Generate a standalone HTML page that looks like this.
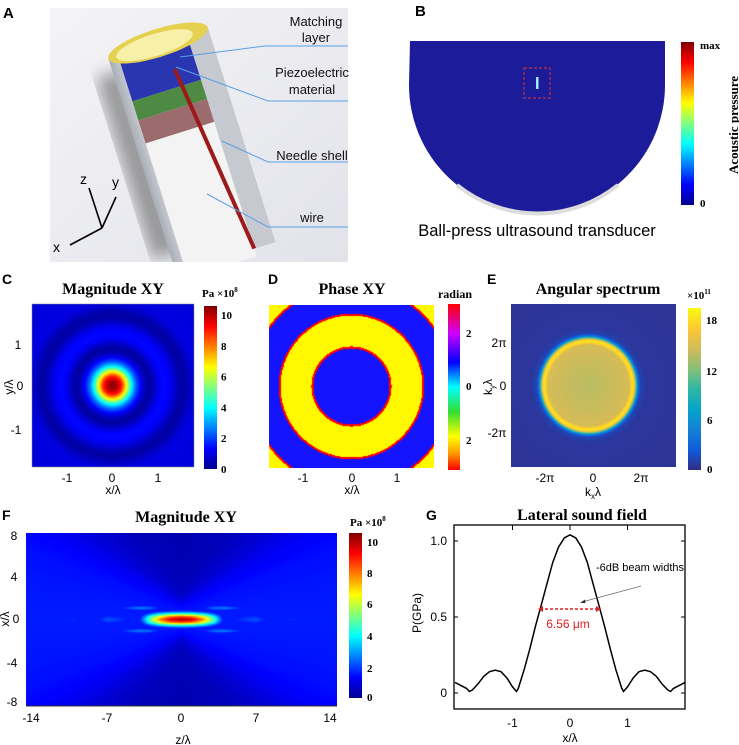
<!DOCTYPE html>
<html><head><meta charset="utf-8"><style>
html,body{margin:0;padding:0;background:#fff;width:739px;height:745px;overflow:hidden}
#wrap{position:relative;width:739px;height:745px}
canvas{position:absolute}
svg{position:absolute;left:0;top:0}
</style></head><body><div id="wrap">
<canvas id="cC" width="162" height="163" style="left:32px;top:304px"></canvas>
<canvas id="cD" width="165" height="163" style="left:269px;top:305px"></canvas>
<canvas id="cE" width="165" height="163" style="left:511px;top:304px"></canvas>
<canvas id="cF" width="311" height="173" style="left:26px;top:533px"></canvas>
<svg width="739" height="745" font-family="Liberation Sans, sans-serif">
<defs>
<linearGradient id="jet" x1="0" y1="1" x2="0" y2="0"><stop offset="0" stop-color="#00008f"/><stop offset="0.125" stop-color="#0000ff"/><stop offset="0.375" stop-color="#00ffff"/><stop offset="0.625" stop-color="#ffff00"/><stop offset="0.875" stop-color="#ff0000"/><stop offset="1" stop-color="#800000"/></linearGradient>
<linearGradient id="phase" x1="0" y1="1" x2="0" y2="0"><stop offset="0" stop-color="#ff0000"/><stop offset="0.1" stop-color="#ff9900"/><stop offset="0.2" stop-color="#ffff00"/><stop offset="0.35" stop-color="#33dd33"/><stop offset="0.5" stop-color="#00ffff"/><stop offset="0.65" stop-color="#0000ff"/><stop offset="0.82" stop-color="#cc00ff"/><stop offset="1" stop-color="#ff0000"/></linearGradient>
<linearGradient id="parula" x1="0" y1="1" x2="0" y2="0"><stop offset="0" stop-color="#352a87"/><stop offset="0.125" stop-color="#0f5cdd"/><stop offset="0.25" stop-color="#1481d6"/><stop offset="0.375" stop-color="#06a4ca"/><stop offset="0.5" stop-color="#2eb7a4"/><stop offset="0.625" stop-color="#87bf77"/><stop offset="0.75" stop-color="#d1bb59"/><stop offset="0.875" stop-color="#fec832"/><stop offset="1" stop-color="#f9fb0e"/></linearGradient>
<linearGradient id="bgA" x1="0" y1="0" x2="1" y2="1"><stop offset="0" stop-color="#f4f4f6"/><stop offset="1" stop-color="#e2e3ea"/></linearGradient>
<linearGradient id="tube" x1="0" y1="0" x2="1" y2="0"><stop offset="0" stop-color="#a9adb5"/><stop offset="0.25" stop-color="#eef0f3"/><stop offset="0.7" stop-color="#d6d9df"/><stop offset="1" stop-color="#9ea3ab"/></linearGradient>
<filter id="blur"><feGaussianBlur stdDeviation="8"/></filter>
<clipPath id="clipA"><rect x="50" y="8" width="298" height="254"/></clipPath>
</defs>

<!-- Panel A -->
<g>
<text x="3" y="18" font-size="15" font-weight="bold">A</text>
<rect x="50" y="8" width="298" height="254" fill="url(#bgA)"/>
<g clip-path="url(#clipA)">
<g transform="rotate(-17.5 158 43) translate(158 43)">
<rect x="-70" y="15" width="30" height="190" fill="#333" opacity="0.45" filter="url(#blur)"/>
<rect x="-52" y="0" width="104" height="225" fill="url(#tube)"/>
<rect x="-42" y="8" width="72" height="225" fill="#f3f3f3"/>
<rect x="-42" y="8" width="72" height="40" fill="#2a35b0"/>
<rect x="-42" y="48" width="72" height="20" fill="#4f8a45"/>
<rect x="-42" y="68" width="72" height="24" fill="#9c6b6e"/>
<rect x="30" y="0" width="22" height="225" fill="#c6c9cf"/>
<ellipse cx="0" cy="0" rx="52" ry="14" fill="#e6d050"/>
<ellipse cx="-4" cy="1" rx="40" ry="11" fill="#f6f0a8"/>
<line x1="8" y1="30" x2="30" y2="225" stroke="#9c1a1a" stroke-width="4"/>
</g>
</g>
<g fill="#111" font-size="13" text-anchor="middle">
<text x="316" y="26">Matching</text><text x="316" y="42">layer</text>
<text x="312" y="77">Piezoelectric</text><text x="312" y="94">material</text>
<text x="312" y="160">Needle shell</text>
<text x="312" y="222">wire</text>
</g>
<g stroke="#5aa0e6" stroke-width="1" fill="none">
<polyline points="180,57 265,46 348,46"/><polyline points="176,67 268,101 348,101"/>
<polyline points="222,141 268,162 348,162"/><polyline points="207,194 268,227 348,227"/>
</g>
<g stroke="#000" stroke-width="1.6" fill="#000">
<line x1="102" y1="228" x2="89" y2="188"/><line x1="102" y1="228" x2="116" y2="197"/><line x1="102" y1="228" x2="70" y2="245"/>
</g>
<g font-size="14" fill="#000"><text x="80" y="184">z</text><text x="112" y="187">y</text><text x="53" y="252">x</text></g>
</g>

<!-- Panel B -->
<g>
<text x="415" y="16" font-size="15" font-weight="bold">B</text>
<path d="M410,41 H665 V85 A128,128 0 0 1 409,85 Z" fill="#1c1c9a"/>
<path d="M457,185 A128,128 0 0 0 618,185" fill="none" stroke="#ddd" stroke-width="4"/>
<rect x="524" y="68" width="26" height="30" fill="none" stroke="#c0303a" stroke-width="1.2" stroke-dasharray="3,2"/>
<rect x="536" y="77" width="2.5" height="12" fill="#9ef"/>
<rect x="681" y="42" width="13" height="163" fill="url(#jet)"/>
<text x="700" y="49" font-family="Liberation Serif, serif" font-weight="bold" font-size="11">max</text>
<text x="700" y="207" font-family="Liberation Serif, serif" font-weight="bold" font-size="11">0</text>
<text transform="translate(738 125) rotate(-90)" text-anchor="middle" font-family="Liberation Serif, serif" font-weight="bold" font-size="13">Acoustic pressure</text>
<text x="537" y="236" text-anchor="middle" font-size="16.5">Ball-press ultrasound transducer</text>
</g>

<!-- Panel C -->
<g>
<text x="2" y="284" font-size="14" font-weight="bold">C</text>
<text x="113" y="294" text-anchor="middle" font-family="Liberation Serif, serif" font-weight="bold" font-size="16">Magnitude XY</text>
<rect x="32" y="304" width="162" height="163" fill="none" stroke="#888" stroke-width="0.5"/>
<rect x="204" y="306" width="13" height="163" fill="url(#jet)"/>
<text x="202" y="297" font-family="Liberation Serif, serif" font-weight="bold" font-size="11">Pa ×10<tspan font-size="7" dy="-5">8</tspan></text>
<g id="cTicks" font-family="Liberation Serif, serif" font-weight="bold" font-size="11"></g>
<g font-size="12" text-anchor="middle"><text x="67" y="482">-1</text><text x="112" y="482">0</text><text x="158" y="482">1</text><text x="113" y="494">x/λ</text>
<text x="18" y="349">1</text><text x="20" y="390">0</text><text x="16" y="434">-1</text></g>
<text transform="translate(13 387) rotate(-90)" text-anchor="middle" font-size="12">y/λ</text>
</g>

<!-- Panel D -->
<g>
<text x="268" y="284" font-size="14" font-weight="bold">D</text>
<text x="352" y="294" text-anchor="middle" font-family="Liberation Serif, serif" font-weight="bold" font-size="16">Phase XY</text>
<rect x="448" y="304" width="12" height="166" fill="url(#phase)"/>
<text x="455" y="298" text-anchor="middle" font-family="Liberation Serif, serif" font-weight="bold" font-size="12">radian</text>
<g font-family="Liberation Serif, serif" font-weight="bold" font-size="11"><text x="466" y="337">2</text><text x="466" y="390">0</text><text x="466" y="444">2</text></g>
<g font-size="12" text-anchor="middle"><text x="303" y="482">-1</text><text x="352" y="482">0</text><text x="397" y="482">1</text><text x="352" y="494">x/λ</text></g>
</g>

<!-- Panel E -->
<g>
<text x="487" y="284" font-size="14" font-weight="bold">E</text>
<text x="598" y="294" text-anchor="middle" font-family="Liberation Serif, serif" font-weight="bold" font-size="16">Angular spectrum</text>
<rect x="688" y="308" width="13" height="162" fill="url(#parula)"/>
<text x="687" y="299" font-family="Liberation Serif, serif" font-weight="bold" font-size="11">×10<tspan font-size="7" dy="-5">11</tspan></text>
<g font-family="Liberation Serif, serif" font-weight="bold" font-size="11"><text x="706" y="324">18</text><text x="706" y="375">12</text><text x="707" y="424">6</text><text x="707" y="473">0</text></g>
<g font-size="12" text-anchor="middle"><text x="499" y="347">2π</text><text x="503" y="390">0</text><text x="497" y="437">-2π</text>
<text x="545" y="482">-2π</text><text x="593" y="482">0</text><text x="641" y="482">2π</text><text x="593" y="496">k<tspan font-size="8" dy="3">x</tspan><tspan dy="-3">λ</tspan></text></g>
<text transform="translate(492 387) rotate(-90)" text-anchor="middle" font-size="12">k<tspan font-size="8" dy="3">y</tspan><tspan dy="-3">λ</tspan></text>
</g>

<!-- Panel F -->
<g>
<text x="2" y="520" font-size="14" font-weight="bold">F</text>
<text x="186" y="522" text-anchor="middle" font-family="Liberation Serif, serif" font-weight="bold" font-size="16">Magnitude XY</text>
<rect x="349" y="533" width="13" height="165" fill="url(#jet)"/>
<text x="350" y="526" font-family="Liberation Serif, serif" font-weight="bold" font-size="11">Pa ×10<tspan font-size="7" dy="-5">8</tspan></text>
<g font-family="Liberation Serif, serif" font-weight="bold" font-size="11"><text x="367" y="546">10</text><text x="367" y="577">8</text><text x="367" y="608">6</text><text x="367" y="640">4</text><text x="367" y="672">2</text><text x="367" y="701">0</text></g>
<line x1="26" y1="706" x2="337" y2="706" stroke="#333"/>
<g font-size="12" text-anchor="middle"><text x="31" y="722">-14</text><text x="107" y="722">-7</text><text x="181" y="722">0</text><text x="256" y="722">7</text><text x="330" y="722">14</text><text x="183" y="744">z/λ</text>
<text x="14" y="540">8</text><text x="14" y="581">4</text><text x="16" y="623">0</text><text x="12" y="667">-4</text><text x="12" y="706">-8</text></g>
<text transform="translate(9 619) rotate(-90)" text-anchor="middle" font-size="12">x/λ</text>
</g>

<!-- Panel G -->
<g>
<text x="426" y="520" font-size="14" font-weight="bold">G</text>
<text x="582" y="520" text-anchor="middle" font-family="Liberation Serif, serif" font-weight="bold" font-size="16">Lateral sound field</text>
<rect x="454" y="525" width="231" height="184" fill="none" stroke="#000" stroke-width="1.3"/>
<g id="gAxes" font-size="12"></g>
<path id="gLine" fill="none" stroke="#000" stroke-width="1.5"/>
<line x1="540" y1="609" x2="599" y2="609" stroke="#e02020" stroke-width="1.5" stroke-dasharray="3,2"/>
<path d="M538,609 l5,-3 v6z M601,609 l-5,-3 v6z" fill="#e02020"/>
<text x="568" y="628" text-anchor="middle" font-size="12" fill="#e02020">6.56 μm</text>
<text x="596" y="571" font-size="11">-6dB beam widths</text>
<line x1="641" y1="586" x2="582" y2="602" stroke="#666" stroke-width="0.8"/>
<path d="M580,603 l5,-3.5 l0.5,3.5z" fill="#333"/>
<text transform="translate(421 613) rotate(-90)" text-anchor="middle" font-size="12">P(GPa)</text>
<text x="570" y="742" text-anchor="middle" font-size="12">x/λ</text>
</g>
</svg>
</div>
<script>
// ---- data ----
const cRadius=[0,0.1,0.2,0.3,0.4,0.5,0.6,0.7,0.8,0.9,1.0,1.1,1.2,1.3,1.4,1.5,1.6,1.7,1.8,2.0,2.6];
const cValue=[10.5,10.1,8.9,6.6,4.1,2.4,1.3,0.6,0.3,0.7,1.2,1.4,1.3,1.0,0.6,0.35,0.5,0.8,1.0,1.0,0.9];
const cTickLabels=[0,2,4,6,8,10];
const dBoundaries=[0.83,1.53,2.15];
const dPhases=[1.2,-2.22,1.2,-2.22];
const eRadius=[0,0.5,0.85,0.9,0.93,0.96,1.0,1.03,1.08,1.2,2.0];
const eValue=[13.5,14,14.5,17.5,18,16,9,4,1.2,0.6,0.5];
const fAxialZ=[0,1,2,3,3.5,4,4.5,5,6,7,8,9,10,12,14];
const fAxialV=[10.4,9.8,8,5,3,1.2,0.4,1.6,2,2.2,1.4,0.6,1.8,1.5,1.3];
const fLatX=[0,0.3,0.5,0.75,1,1.5,2,3,4,8];
const fLatV=[1,0.8,0.5,0.22,0.1,0.05,0.03,0.02,0.01,0];
const fSideZ=[0,2,3,4,5,6,8,14];
const fSideV=[0.8,1.5,2.6,2.8,2.2,1.4,1.4,1.2];
const fConeS=[0,0.2,0.4,0.6,0.8,1.2,3];
const fConeV=[1.6,1.55,1.45,1.2,0.85,0.6,0.5];
const gX=[0,0.1,0.2,0.3,0.4,0.5,0.6,0.7,0.8,0.9,0.93,1.0,1.1,1.2,1.3,1.4,1.5,1.6,1.7,1.75,1.8,1.9,2.0];
const gP=[1.04,1.02,0.96,0.86,0.72,0.58,0.44,0.29,0.15,0.03,0.01,0.04,0.10,0.14,0.15,0.14,0.11,0.06,0.02,0.01,0.03,0.05,0.07];
const gYTicks=[0,0.5,1.0];
const gYTickLabels=["0","0.5","1.0"];
const gXTicks=[-1,0,1];

function interp(xs,ys,x){if(x<=xs[0])return ys[0];for(let i=1;i<xs.length;i++){if(x<=xs[i]){const t=(x-xs[i-1])/(xs[i]-xs[i-1]);return ys[i-1]+t*(ys[i]-ys[i-1]);}}return ys[ys.length-1];}
function jet(t){t=Math.max(0,Math.min(1,t));const c=v=>Math.round(255*Math.max(0,Math.min(1,v)));return[c(1.5-Math.abs(4*t-3)),c(1.5-Math.abs(4*t-2)),c(1.5-Math.abs(4*t-1))];}
const parStops=[[53,42,135],[15,92,221],[20,129,214],[6,164,202],[46,183,164],[135,191,119],[209,187,89],[254,200,50],[249,251,14]];
function parula(t){t=Math.max(0,Math.min(1,t))*8;const i=Math.min(7,Math.floor(t)),f=t-i,a=parStops[i],b=parStops[i+1];return[0,1,2].map(k=>Math.round(a[k]+f*(b[k]-a[k])));}
function phaseColor(p){const stops=[[-Math.PI,[255,0,0]],[-2.5,[255,153,0]],[-2.2,[255,255,0]],[-1,[51,221,51]],[0,[0,255,255]],[1.2,[20,20,255]],[2.2,[204,0,255]],[Math.PI,[255,0,0]]];for(let i=1;i<stops.length;i++){if(p<=stops[i][0]){const t=(p-stops[i-1][0])/(stops[i][0]-stops[i-1][0]);return[0,1,2].map(k=>Math.round(stops[i-1][1][k]+t*(stops[i][1][k]-stops[i-1][1][k])));}}return[255,0,0];}
function paint(id,fn){const cv=document.getElementById(id),ctx=cv.getContext('2d'),W=cv.width,H=cv.height,img=ctx.createImageData(W,H);for(let y=0;y<H;y++)for(let x=0;x<W;x++){const c=fn(x,y),o=(y*W+x)*4;img.data[o]=c[0];img.data[o+1]=c[1];img.data[o+2]=c[2];img.data[o+3]=255;}ctx.putImageData(img,0,0);}

// C
const cMax=10.6,cPx=46.5;
paint('cC',(x,y)=>{const r=Math.hypot(x-80,y-81)/cPx;return jet(interp(cRadius,cValue,r)/cMax);});
const cT=document.getElementById('cTicks');
cTickLabels.forEach(v=>{const t=document.createElementNS('http://www.w3.org/2000/svg','text');


t.setAttribute('x',221);t.setAttribute('y',469-163*v/cMax+4);t.textContent=v;cT.appendChild(t);});
// D
paint('cD',(x,y)=>{const r=Math.hypot(x-82,y-81)/47;for(const b of dBoundaries){if(Math.abs(r-b)<0.022)return phaseColor(Math.PI);}let i=0;while(i<dBoundaries.length&&r>dBoundaries[i])i++;return phaseColor(dPhases[i]);});
// E
paint('cE',(x,y)=>{const r=Math.hypot(x-77,y-81)/48;return parula(interp(eRadius,eValue,r)/19);});
// F
const fzs=10.68,fxs=10.4;
paint('cF',(x,y)=>{const z=Math.abs((x-155)/fzs),xx=Math.abs((y-86)/fxs);
const cone=interp(fConeS,fConeV,xx/(z+2.5));
const side=interp(fSideZ,fSideV,z)*Math.max(0,1-Math.abs(xx-1.1)/0.5);
const main=interp(fAxialZ,fAxialV,z)*interp(fLatX,fLatV,xx);
const v=Math.max(cone,side,main);return jet(v/10.6);});
// G
const gx=v=>570+57.5*v, gy=v=>693-152*v;
let pts=[];for(let i=gX.length-1;i>0;i--)pts.push([-gX[i],gP[i]]);for(let i=0;i<gX.length;i++)pts.push([gX[i],gP[i]]);
document.getElementById('gLine').setAttribute('d','M'+pts.map(p=>gx(p[0]).toFixed(1)+','+gy(p[1]).toFixed(1)).join(' L'));
const ga=document.getElementById('gAxes');const NS='http://www.w3.org/2000/svg';
gYTicks.forEach((v,i)=>{const t=document.createElementNS(NS,'text');


t.setAttribute('x',447);t.setAttribute('y',gy(v)+4);t.setAttribute('text-anchor','end');t.textContent=gYTickLabels[i];ga.appendChild(t);
[[454,458],[681,685]].forEach(s=>{const l=document.createElementNS(NS,'line');


l.setAttribute('x1',s[0]);l.setAttribute('x2',s[1]);l.setAttribute('y1',gy(v));l.setAttribute('y2',gy(v));l.setAttribute('stroke','#000');ga.appendChild(l);});});
gXTicks.forEach(v=>{const t=document.createElementNS(NS,'text');


t.setAttribute('x',gx(v));t.setAttribute('y',727);t.setAttribute('text-anchor','middle');t.textContent=v;ga.appendChild(t);
const l=document.createElementNS(NS,'line');


l.setAttribute('x1',gx(v));l.setAttribute('x2',gx(v));l.setAttribute('y1',525);l.setAttribute('y2',530);l.setAttribute('stroke','#000');ga.appendChild(l);});
</script>
</body></html>
